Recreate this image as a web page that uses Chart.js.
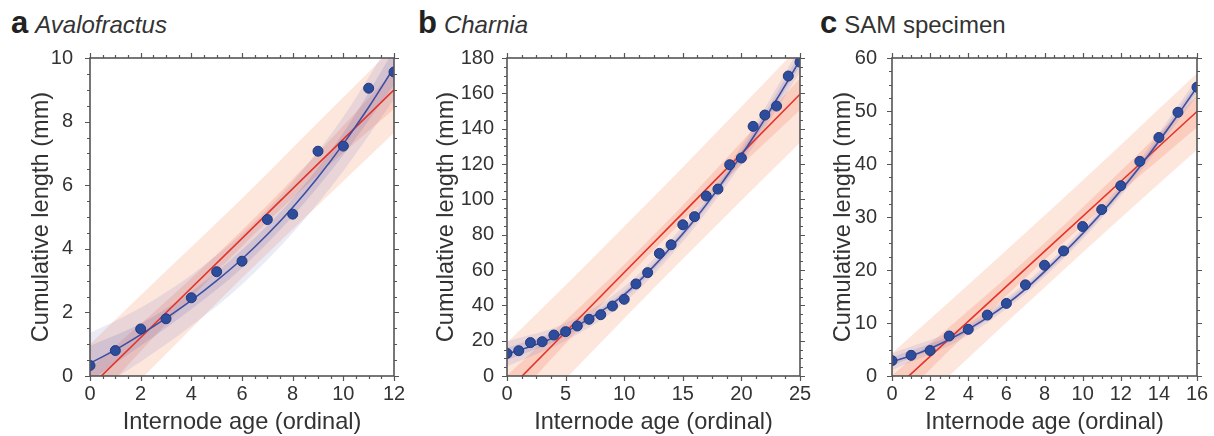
<!DOCTYPE html>
<html>
<head>
<meta charset="utf-8">
<script src="https://cdn.jsdelivr.net/npm/chart.js@4.4.1/dist/chart.umd.min.js"></script>
<style>
  body { margin: 0; background: #fff; width: 1214px; height: 436px; overflow: hidden; position: relative;
         font-family: "Liberation Sans", Arial, sans-serif; color: #333; }
  canvas { position: absolute; top: 0; }
  .ttl { position: absolute; top: 8px; font-size: 24px; line-height: 30px; white-space: nowrap; color: #333; }
  .ttl b { font-size: 31px; color: #222; margin-right: 7px; }
</style>
</head>
<body>
<div class="ttl" style="left:11px"><b>a</b><i>Avalofractus</i></div>
<div class="ttl" style="left:418px"><b>b</b><i>Charnia</i></div>
<div class="ttl" style="left:820px"><b>c</b>SAM specimen</div>
<canvas id="chartA" width="405" height="436" style="left:0px"></canvas>
<canvas id="chartB" width="410" height="436" style="left:405px"></canvas>
<canvas id="chartC" width="409" height="436" style="left:805px"></canvas>
<script>
// ---- a  Avalofractus ----
const ageA = [0,1,2,3,4,5,6,7,8,9,10,11,12];
const lenA = [0.33,0.8,1.48,1.8,2.46,3.28,3.61,4.92,5.09,7.07,7.23,9.05,9.56];
const fitA = [0.4,0.82,1.3,1.82,2.38,3.0,3.68,4.45,5.3,6.25,7.3,8.45,9.7];
const bandXA = [0,2,4,6,8,10,12];
const fitPiHiA = [1.35,2.15,3.18,4.48,6.1,8.15,10.7];
const fitPiLoA = [-0.55,0.45,1.58,2.88,4.5,6.45,8.7];
const fitCiHiA = [0.95,1.65,2.66,3.96,5.58,7.65,10.25];
const fitCiLoA = [-0.15,0.95,2.1,3.4,5.02,6.95,9.15];
const linXA = [0,3,6,9,12];
const linA = [-0.35,1.99,4.33,6.67,9.0];
const linPiHiA = [1.0,3.3,5.58,7.97,10.35];
const linPiLoA = [-1.7,0.69,3.08,5.37,7.65];
const linCiHiA = [0.25,2.35,4.58,7.02,9.6];
const linCiLoA = [-0.95,1.63,4.08,6.32,8.4];

// ---- b  Charnia ----
const ageB = [0,1,2,3,4,5,6,7,8,9,10,11,12,13,14,15,16,17,18,19,20,21,22,23,24,25];
const lenB = [12.8,14.3,18.9,19.4,23.2,25.1,28.3,32.1,34.7,39.6,43.4,52.1,58.5,69.4,74.3,85.6,90.2,101.9,105.8,119.6,123.4,141.3,147.7,152.8,169.8,177.7];
const fitB = [12.5,14.5,16.7,19,21.8,25,28.5,32.3,36.5,41,46,52,58.5,65.5,73,80.5,88.5,97,106,115.5,125,135,145.5,156.5,167.5,179];
const bandXB = [0,5,10,15,20,25];
const fitPiHiB = [19.5,30,50.5,85,130,186];
const fitPiLoB = [5.5,20,41.5,76,120,172];
const fitCiHiB = [16,27.5,48,82.5,127.5,182.5];
const fitCiLoB = [9,22.5,44,78.5,122.5,175.5];
const linXB = [0,5,10,15,20,25];
const linB = [-8.7,24.9,58.6,92.2,125.9,159.5];
const linPiHiB = [18.8,51.4,84.6,118.2,152.4,187];
const linPiLoB = [-36.2,-1.6,32.6,66.2,99.4,132];
const linCiHiB = [0.3,31.4,63.1,96.7,132.4,168.5];
const linCiLoB = [-17.7,18.4,54.1,87.7,119.4,150.5];

// ---- c  SAM specimen ----
const ageC = [0,1,2,3,4,5,6,7,8,9,10,11,12,13,14,15,16];
const lenC = [2.9,3.9,4.8,7.55,8.8,11.5,13.7,17.2,20.9,23.6,28.2,31.4,35.9,40.5,45.0,49.75,54.5];
const fitC = [2.7,3.8,5.2,6.9,8.8,11,13.5,16.4,19.7,23.2,26.9,30.8,35,39.5,44.3,49.3,54.5];
const bandXC = [0,4,8,12,16];
const fitPiHiC = [4.3,9.9,20.7,36.1,56.1];
const fitPiLoC = [1.1,7.7,18.7,33.9,52.9];
const fitCiHiC = [3.5,9.3,20.2,35.5,55.3];
const fitCiLoC = [1.9,8.3,19.2,34.5,53.7];
const linXC = [0,4,8,12,16];
const linC = [-2.9,10.3,23.5,36.7,49.9];
const linPiHiC = [4.3,17.2,30.3,43.6,57.1];
const linPiLoC = [-10.1,3.4,16.7,29.8,42.7];
const linCiHiC = [0.1,12.3,25.1,38.7,52.9];
const linCiLoC = [-5.9,8.3,21.9,34.7,46.9];

const RED = '#e5332a', BLUE = '#3b4fa3', DOT = '#2d4c9c';
const FONT = '"Liberation Sans", Arial, sans-serif';

function xy(xs, ys) { return xs.map((x, i) => ({ x: x, y: ys[i] })); }

function band(xs, hi, lo, color, order) {
  const base = { borderWidth: 0, pointRadius: 0, cubicInterpolationMode: 'monotone', order: order };
  return [
    Object.assign({ data: xy(xs, hi), fill: '+1', backgroundColor: color }, base),
    Object.assign({ data: xy(xs, lo), fill: false }, base),
  ];
}

// box frame + major/minor ticks on all four sides
const frameTicks = {
  id: 'frameTicks',
  afterDraw(chart, args, o) {
    const { ctx, chartArea: a } = chart;
    const x = chart.scales.x, y = chart.scales.y;
    const isMajor = (v, step) => Math.abs(v / step - Math.round(v / step)) < 1e-6;
    ctx.save();
    ctx.strokeStyle = '#555';
    ctx.lineWidth = 1.2;
    ctx.beginPath();
    for (let v = x.min; v <= x.max + 1e-6; v += o.xMinor) {
      const p = Math.round(x.getPixelForValue(v)) + 0.5;
      const len = isMajor(v, o.xMajor) ? 5 : 3;
      ctx.moveTo(p, a.bottom); ctx.lineTo(p, a.bottom + len);
      ctx.moveTo(p, a.top); ctx.lineTo(p, a.top - len);
    }
    for (let v = y.min; v <= y.max + 1e-6; v += o.yMinor) {
      const p = Math.round(y.getPixelForValue(v)) + 0.5;
      const len = isMajor(v, o.yMajor) ? 5 : 3;
      ctx.moveTo(a.left, p); ctx.lineTo(a.left - len, p);
      ctx.moveTo(a.right, p); ctx.lineTo(a.right + len, p);
    }
    ctx.stroke();
    ctx.lineWidth = 1.6;
    ctx.strokeRect(a.left, a.top, a.right - a.left, a.bottom - a.top);
    ctx.restore();
  }
};

function makeChart(id, p) {
  const datasets = [
    { type: 'scatter', data: xy(p.ages, p.lens), pointRadius: 5, pointBackgroundColor: DOT,
      pointBorderColor: '#22387a', pointBorderWidth: 1, showLine: false, clip: 0, order: 0 },
    { data: xy(p.ages, p.fit), borderColor: BLUE, borderWidth: 1.6, pointRadius: 0,
      cubicInterpolationMode: 'monotone', fill: false, order: 1 },
    { data: xy(p.linX, p.lin), borderColor: RED, borderWidth: 1.6, pointRadius: 0, fill: false, order: 2 },
  ]
    .concat(band(p.bandX, p.fitCiHi, p.fitCiLo, 'rgba(90,90,175,0.16)', 3))
    .concat(band(p.bandX, p.fitPiHi, p.fitPiLo, 'rgba(100,100,185,0.13)', 4))
    .concat(band(p.linX, p.linCiHi, p.linCiLo, 'rgba(240,120,85,0.22)', 5))
    .concat(band(p.linX, p.linPiHi, p.linPiLo, 'rgba(247,145,105,0.23)', 6));

  return new Chart(document.getElementById(id), {
    type: 'line',
    data: { datasets: datasets },
    options: {
      responsive: false,
      animation: false,
      layout: { padding: { top: 58, right: p.padRight, bottom: 0, left: 0 } },
      plugins: {
        legend: { display: false },
        tooltip: { enabled: false },
        frameTicks: { xMinor: p.xMinor, xMajor: p.xMajor, yMinor: p.yMinor, yMajor: p.yMajor },
      },
      scales: {
        x: {
          type: 'linear', min: 0, max: p.xMax,
          grid: { display: false }, border: { display: false },
          ticks: { stepSize: p.xMajor, maxRotation: 0, autoSkip: false, padding: -2, color: '#333',
                   font: { family: FONT, size: 20 } },
          title: { display: true, text: 'Internode age (ordinal)', color: '#333',
                   font: { family: FONT, size: 23.6 }, padding: { top: 0, bottom: -1 } },
          afterFit(s) { s.height = 60; s.paddingLeft = 0; s.paddingRight = 0; },
        },
        y: {
          type: 'linear', min: 0, max: p.yMax,
          grid: { display: false }, border: { display: false },
          ticks: { stepSize: p.yMajor, padding: p.yPad, color: '#333', font: { family: FONT, size: 20 } },
          title: { display: true, text: 'Cumulative length (mm)', color: '#333',
                   font: { family: FONT, size: 23.6 }, padding: { top: p.titlePad, bottom: 0 } },
          afterFit(s) { s.width = p.yWidth; s.paddingTop = 0; s.paddingBottom = 0; },
        },
      },
    },
    plugins: [frameTicks],
  });
}

makeChart('chartA', {
  ages: ageA, lens: lenA, fit: fitA, bandX: bandXA,
  fitPiHi: fitPiHiA, fitPiLo: fitPiLoA, fitCiHi: fitCiHiA, fitCiLo: fitCiLoA,
  linX: linXA, lin: linA, linPiHi: linPiHiA, linPiLo: linPiLoA, linCiHi: linCiHiA, linCiLo: linCiLoA,
  xMax: 12, xMajor: 2, xMinor: 0.5, yMax: 10, yMajor: 2, yMinor: 0.5,
  yWidth: 90, padRight: 11, yPad: 9, titlePad: 27,
});
makeChart('chartB', {
  ages: ageB, lens: lenB, fit: fitB, bandX: bandXB,
  fitPiHi: fitPiHiB, fitPiLo: fitPiLoB, fitCiHi: fitCiHiB, fitCiLo: fitCiLoB,
  linX: linXB, lin: linB, linPiHi: linPiHiB, linPiLo: linPiLoB, linCiHi: linCiHiB, linCiLo: linCiLoB,
  xMax: 25, xMajor: 5, xMinor: 1.25, yMax: 180, yMajor: 20, yMinor: 5,
  yWidth: 102, padRight: 15, yPad: 5, titlePad: 27,
});
makeChart('chartC', {
  ages: ageC, lens: lenC, fit: fitC, bandX: bandXC,
  fitPiHi: fitPiHiC, fitPiLo: fitPiLoC, fitCiHi: fitCiHiC, fitCiLo: fitCiLoC,
  linX: linXC, lin: linC, linPiHi: linPiHiC, linPiLo: linPiLoC, linCiHi: linCiHiC, linCiLo: linCiLoC,
  xMax: 16, xMajor: 2, xMinor: 0.5, yMax: 60, yMajor: 10, yMinor: 2.5,
  yWidth: 87, padRight: 17, yPad: 7, titlePad: 24,
});
</script>
</body>
</html>
